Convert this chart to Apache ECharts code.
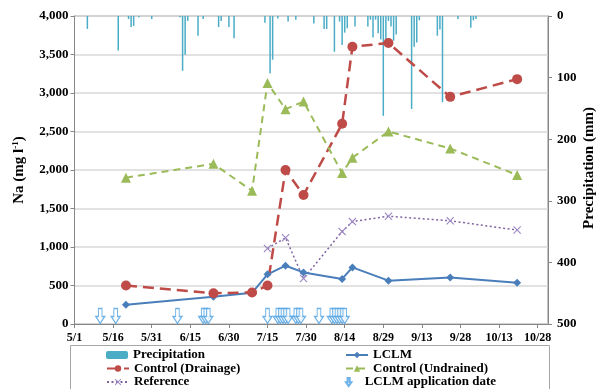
<!DOCTYPE html>
<html>
<head>
<meta charset="utf-8">
<script src="https://cdn.jsdelivr.net/npm/echarts@6/dist/echarts.min.js"></script>
<style>
  html, body { margin: 0; padding: 0; background: #fff; }
  #chart { width: 598px; height: 389px; }
</style>
</head>
<body>
<div id="chart"></div>
<script>
// Date tick labels along the season axis (every 15 days from 5/1)
const xTickLabels = ['5/1', '5/16', '5/31', '6/15', '6/30', '7/15', '7/30', '8/14', '8/29', '9/13', '9/28', '10/13', '10/28'];

// Sampling dates for the Na series
const sampleDates = ['5/21', '6/24', '7/9', '7/15', '7/22', '7/29', '8/13', '8/17', '8/31', '9/24', '10/20'];
const lclm = [250, 355, 405, 645, 757, 670, 585, 735, 563, 605, 537];
const controlDrainage = [500, 400, 410, 500, 2000, 1675, 2600, 3600, 3650, 2950, 3180];
const controlUndrained = [1900, 2080, 1730, 3130, 2790, 2890, 1960, 2160, 2500, 2280, 1935];

const referenceDates = ['7/15', '7/22', '7/29', '8/13', '8/17', '8/31', '9/24', '10/20'];
const reference = [980, 1120, 590, 1200, 1330, 1400, 1340, 1220];

// Daily precipitation (mm)
const precipDates = ['5/6', '5/18', '5/22', '5/23', '5/24', '5/26', '5/31', '6/11', '6/12', '6/13', '6/14', '6/18', '6/20',
  '6/26', '6/27', '6/30', '7/2', '7/14', '7/16', '7/17', '7/19', '7/23', '7/26', '8/2', '8/6', '8/7', '8/10', '8/12',
  '8/13', '8/14', '8/15', '8/18', '8/23', '8/24', '8/25', '8/26', '8/27', '8/28', '8/29', '8/30', '8/31', '9/1', '9/2',
  '9/3', '9/9', '9/10', '9/11', '9/12', '9/19', '9/20', '9/21', '9/27', '10/2', '10/3', '10/4'];
const precipMm = [21, 56, 5, 18, 16, 2, 5, 2, 89, 63, 8, 32, 5,
  18, 8, 18, 36, 11, 93, 71, 4, 9, 6, 12, 21, 21, 58, 9,
  47, 27, 20, 17, 17, 6, 35, 6, 28, 38, 162, 42, 8, 17, 40,
  30, 151, 50, 43, 7, 32, 22, 140, 5, 19, 7, 5];

// LCLM application dates
const applicationDates = ['5/11', '5/17', '6/10', '6/20', '6/21', '6/22', '7/15', '7/19', '7/20', '7/21', '7/22', '7/23',
  '7/26', '7/27', '7/28', '8/4', '8/9', '8/10', '8/11', '8/12', '8/13', '8/14'];

const YEAR = 2011;
function dayOf(md) {
  const [m, d] = md.split('/').map(Number);
  return Math.round((Date.UTC(YEAR, m - 1, d) - Date.UTC(YEAR, 4, 1)) / 86400000);
}
const pairs = (dates, vals) => dates.map((d, i) => [dayOf(d), vals[i]]);

const FONT = 'Liberation Serif';
const AXIS_GREY = '#868686';
const arrowPath = 'path://M3,0 L7,0 L7,8 L10,8 L5,15 L0,8 L3,8 Z';
const crossPath = 'path://M0,1 L1,0 L5,4 L9,0 L10,1 L6,5 L10,9 L9,10 L5,6 L1,10 L0,9 L4,5 Z';
const arrowLevel = 105;

const chart = echarts.init(document.getElementById('chart'), null, { renderer: 'canvas' });

const legendText = { fontFamily: FONT, fontWeight: 'bold', fontSize: 13, color: '#000' };

// One legend block per entry, laid out as a two-column, three-row key
const legendSlots = [
  ['Precipitation', 106, 0], ['LCLM', 345, 0],
  ['Control (Drainage)', 106, 1], ['Control (Undrained)', 345, 1],
  ['Reference', 106, 2], ['LCLM application date', 345, 2]
];
const legends = legendSlots.map(([name, left, row]) => ({
  left: left, top: 348.5 + row * 13.5, padding: 0,
  itemWidth: 22, itemHeight: 8, itemGap: 0,
  textStyle: legendText, data: [name]
}));

chart.setOption({
  animation: false,
  grid: { left: 74.5, right: 50, top: 16, bottom: 65, show: true, borderColor: AXIS_GREY, borderWidth: 1 },
  xAxis: {
    type: 'value', min: 0, max: 184, interval: 15,
    axisLine: { show: true, lineStyle: { color: AXIS_GREY } },
    axisTick: { show: true, inside: false, length: 4, lineStyle: { color: AXIS_GREY } },
    splitLine: { show: false },
    axisLabel: {
      fontFamily: FONT, fontWeight: 'bold', fontSize: 12, color: '#000', margin: 8,
      showMaxLabel: false,
      formatter: v => (v % 15 === 0 ? xTickLabels[v / 15] : '')
    }
  },
  yAxis: [
    {
      type: 'value', min: 0, max: 4000, interval: 500, position: 'left',
      axisLine: { show: true, lineStyle: { color: AXIS_GREY } },
      axisTick: { show: true, inside: false, length: 4, lineStyle: { color: AXIS_GREY } },
      splitLine: { show: true, lineStyle: { color: '#d9d9d9', width: 1.5 } },
      axisLabel: {
        fontFamily: FONT, fontWeight: 'bold', fontSize: 13, color: '#000', margin: 6,
        formatter: v => v.toLocaleString('en-US')
      }
    },
    {
      type: 'value', min: 0, max: 500, interval: 100, position: 'right', inverse: true,
      axisLine: { show: true, lineStyle: { color: AXIS_GREY } },
      axisTick: { show: true, inside: false, length: 4, lineStyle: { color: AXIS_GREY } },
      splitLine: { show: false },
      axisLabel: { fontFamily: FONT, fontWeight: 'bold', fontSize: 13, color: '#000', margin: 9 }
    }
  ],
  legend: legends,
  graphic: [
    {
      type: 'rect', silent: true,
      shape: { x: 70.5, y: 345.5, width: 479, height: 50 },
      style: { fill: 'none', stroke: '#a6a6a6', lineWidth: 1 }
    },
    {
      type: 'text', x: 19, y: 170, rotation: Math.PI / 2,
      style: {
        text: '{a|Na (mg l}{s|-1}{a|)}', align: 'center', verticalAlign: 'middle',
        rich: {
          a: { fontFamily: FONT, fontWeight: 'bold', fontSize: 15, fill: '#000', lineHeight: 16 },
          s: { fontFamily: FONT, fontWeight: 'bold', fontSize: 9, fill: '#000', verticalAlign: 'top', lineHeight: 16 }
        }
      }
    },
    {
      type: 'text', x: 589, y: 168, rotation: Math.PI / 2,
      style: {
        text: 'Precipitation (mm)', align: 'center', verticalAlign: 'middle',
        font: 'bold 15px "Liberation Serif"', fill: '#000'
      }
    }
  ],
  series: [
    {
      name: 'Precipitation', type: 'bar', yAxisIndex: 1, z: 1,
      barWidth: 1.5, itemStyle: { color: '#4bacc6' },
      data: pairs(precipDates, precipMm)
    },
    {
      name: 'LCLM application date', type: 'scatter', yAxisIndex: 0, z: 2,
      symbol: arrowPath, symbolSize: [9, 15],
      itemStyle: { color: '#ffffff', borderColor: '#4a9fe2', borderWidth: 1.2 },
      data: applicationDates.map(d => [dayOf(d), arrowLevel])
    },
    {
      name: 'LCLM', type: 'line', yAxisIndex: 0, z: 4,
      symbol: 'diamond', symbolSize: 8,
      lineStyle: { color: '#4a7ebb', width: 2 },
      itemStyle: { color: '#4a7ebb' },
      data: pairs(sampleDates, lclm)
    },
    {
      name: 'Control (Drainage)', type: 'line', yAxisIndex: 0, z: 4,
      symbol: 'circle', symbolSize: 10,
      lineStyle: { color: '#be4b48', width: 2.5, type: [11, 6] },
      itemStyle: { color: '#be4b48' },
      data: pairs(sampleDates, controlDrainage)
    },
    {
      name: 'Control (Undrained)', type: 'line', yAxisIndex: 0, z: 4,
      symbol: 'triangle', symbolSize: 10,
      lineStyle: { color: '#9bbb59', width: 2, type: [7, 5] },
      itemStyle: { color: '#9bbb59' },
      data: pairs(sampleDates, controlUndrained)
    },
    {
      name: 'Reference', type: 'line', yAxisIndex: 0, z: 3,
      symbol: crossPath, symbolSize: 8,
      lineStyle: { color: '#8064a2', width: 1.5, type: [2, 2.5] },
      itemStyle: { color: '#9d88c2' },
      data: pairs(referenceDates, reference)
    }
  ]
});
</script>
</body>
</html>
